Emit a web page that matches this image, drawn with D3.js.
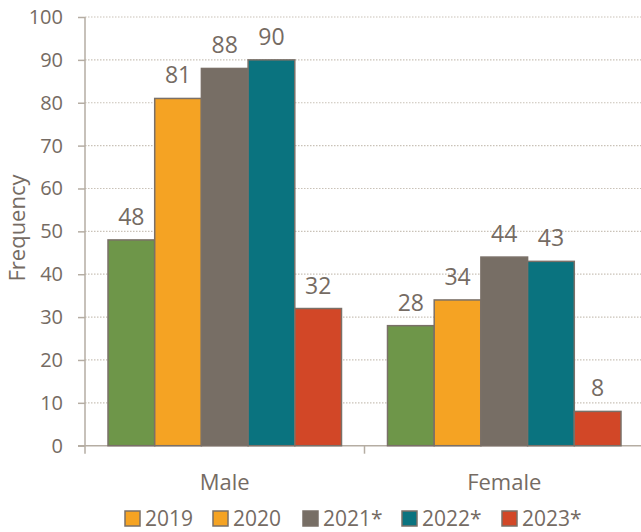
<!DOCTYPE html>
<html><head><meta charset="utf-8">
<script src="https://cdn.jsdelivr.net/npm/d3@7"></script>
<style>body{margin:0;background:#fff}svg{display:block}text{font-family:"Open Sans","Noto Sans",sans-serif;fill:#756b63}</style>
</head><body><svg id="c" width="641" height="532"></svg>
<script>
const categories = ["Male", "Female"];
const seriesNames = ["2019", "2020", "2021*", "2022*", "2023*"];
const values2019 = [48, 28];
const values2020 = [81, 34];
const values2021 = [88, 44];
const values2022 = [90, 43];
const values2023 = [32, 8];
const yTicks = [0, 10, 20, 30, 40, 50, 60, 70, 80, 90, 100];
const barColors = ["#6e9649", "#f5a323", "#776e65", "#0a737f", "#d24727"];
const legendColors = ["#f5a323", "#f5a323", "#776e65", "#0a737f", "#d24727"];
const series = [values2019, values2020, values2021, values2022, values2023];

(function () {
const svg = d3.select("#c");
const mLeft = 85, mRight = 644, mTop = 17, mBottom = 445.7;
const x0 = d3.scaleBand().domain(categories).range([mLeft, mRight]).paddingInner(0).paddingOuter(0);
const x1 = d3.scaleBand().domain(seriesNames).range([23, x0.bandwidth() - 23]);
const y = d3.scaleLinear().domain([0, 100]).range([mBottom, mTop]);

// gridlines
svg.append("g").selectAll("line").data(yTicks.filter(d => d > 0)).join("line")
  .attr("x1", mLeft).attr("x2", 641).attr("y1", d => y(d)).attr("y2", d => y(d))
  .attr("stroke", "#c9c2b8").attr("stroke-width", 1.2).attr("stroke-dasharray", "1.5,1.5");

// y axis
const yAxis = svg.append("g").attr("transform", `translate(${mLeft},0)`)
  .call(d3.axisLeft(y).tickValues(yTicks).tickSize(7).tickPadding(15));
yAxis.select(".domain").attr("d", `M0,${mTop}V${mBottom + 8}`).attr("stroke", "#b5ada3").attr("stroke-width", 1.5);
yAxis.selectAll(".tick line").attr("stroke", "#b5ada3").attr("stroke-width", 1.5);
yAxis.selectAll(".tick text").attr("font-size", 20).attr("font-family", null).style("fill", "#756b63");

// x axis
const xg = svg.append("g").attr("transform", `translate(0,${mBottom})`);
xg.append("line").attr("x1", mLeft - 7).attr("x2", 641).attr("y1", 0).attr("y2", 0).attr("stroke", "#b5ada3").attr("stroke-width", 1.5);
xg.selectAll(".ct").data(categories.slice(1)).join("line")
  .attr("x1", d => x0(d)).attr("x2", d => x0(d)).attr("y1", 0).attr("y2", 8)
  .attr("stroke", "#b5ada3").attr("stroke-width", 1.5);
xg.selectAll(".cl").data(categories).join("text")
  .attr("x", d => x0(d) + x0.bandwidth() / 2).attr("y", 44).attr("text-anchor", "middle")
  .attr("font-size", 22).text(d => d);

// bars
categories.forEach((cat, ci) => {
  const g = svg.append("g").attr("transform", `translate(${x0(cat)},0)`);
  seriesNames.forEach((s, si) => {
    const v = series[si][ci];
    g.append("rect").attr("x", x1(s)).attr("y", y(v)).attr("width", x1.bandwidth()).attr("height", y(0) - y(v))
      .attr("fill", barColors[si]).attr("stroke", "#7a7068").attr("stroke-width", 1.5);
    g.append("text").attr("x", x1(s) + x1.bandwidth() / 2).attr("y", y(v) - 15)
      .attr("text-anchor", "middle").attr("font-size", 23).text(v);
  });
});

// y title
svg.append("text").attr("transform", "translate(25,228) rotate(-90)").attr("text-anchor", "middle")
  .attr("font-size", 22).text("Frequency");

// legend
const legendX = [125, 213, 303, 402, 502];
const lg = svg.append("g");
seriesNames.forEach((s, i) => {
  lg.append("rect").attr("x", legendX[i]).attr("y", 511).attr("width", 15).attr("height", 15)
    .attr("fill", legendColors[i]).attr("stroke", "#7a7068").attr("stroke-width", 1.5);
  lg.append("text").attr("x", legendX[i] + 20).attr("y", 525.5).attr("font-size", 21).text(s);
});
})();
</script></body></html>
